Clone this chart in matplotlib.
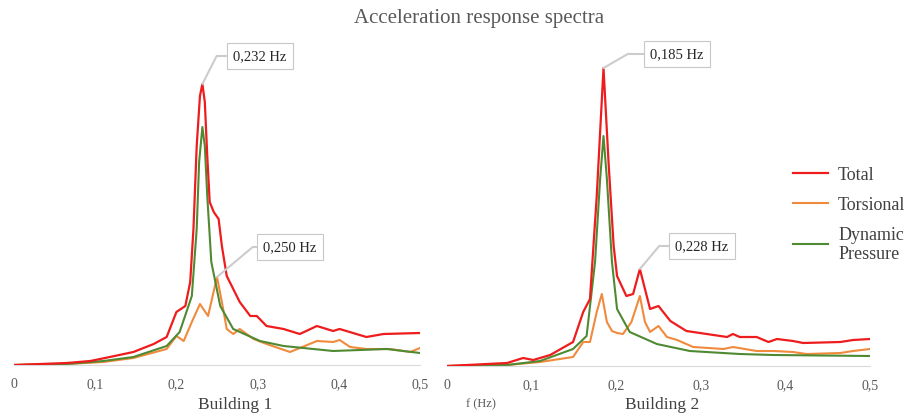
import matplotlib
matplotlib.use("Agg")

import matplotlib.pyplot as plt

plt.rcParams["font.family"] = ["Liberation Serif", "DejaVu Serif"]

# Building 1 spectra (frequency in Hz, amplitude in arbitrary units)
b1_total_f = [0.0, 0.065, 0.094, 0.118, 0.147, 0.172, 0.188, 0.200, 0.211, 0.217,
              0.221, 0.225, 0.229, 0.232, 0.235, 0.238, 0.241, 0.246, 0.252, 0.256,
              0.262, 0.278, 0.291, 0.299, 0.311, 0.332, 0.352, 0.373, 0.393, 0.401,
              0.434, 0.455, 0.500]
b1_total = [0, 2, 4, 8, 13, 21, 28, 53, 59, 83,
            136, 219, 269, 281, 263, 209, 163, 153, 146, 119,
            89, 63, 49, 49, 39, 36, 31, 39, 34, 36,
            28, 31, 32]

b1_tors_f = [0.0, 0.065, 0.110, 0.147, 0.188, 0.200, 0.209, 0.219, 0.229, 0.239,
             0.250, 0.256, 0.262, 0.270, 0.278, 0.295, 0.311, 0.340, 0.373, 0.393,
             0.401, 0.414, 0.434, 0.463, 0.488, 0.500]
b1_tors = [0, 1, 3, 7, 16, 29, 24, 43, 61, 49,
           88, 63, 36, 31, 36, 26, 21, 13, 24, 23,
           25, 18, 16, 16, 13, 17]

b1_dyn_f = [0.0, 0.065, 0.110, 0.147, 0.188, 0.204, 0.219, 0.225, 0.228, 0.232,
            0.235, 0.238, 0.243, 0.254, 0.270, 0.303, 0.332, 0.393, 0.459, 0.500]
b1_dyn = [0, 1, 4, 8, 19, 33, 69, 136, 203, 238,
          219, 169, 103, 59, 36, 24, 19, 14, 16, 12]

# Building 2 spectra
b2_total_f = [0.0, 0.071, 0.090, 0.102, 0.122, 0.149, 0.161, 0.169, 0.177, 0.185,
              0.191, 0.197, 0.201, 0.212, 0.220, 0.228, 0.234, 0.240, 0.250, 0.264,
              0.283, 0.307, 0.331, 0.338, 0.346, 0.366, 0.380, 0.390, 0.409, 0.421,
              0.465, 0.480, 0.500]
b2_total = [0, 3, 8, 6, 11, 24, 54, 67, 170, 298,
            203, 120, 90, 70, 72, 97, 77, 57, 60, 45,
            35, 32, 29, 32, 29, 29, 24, 27, 25, 23,
            24, 26, 27]

b2_tors_f = [0.0, 0.071, 0.110, 0.149, 0.161, 0.169, 0.177, 0.183, 0.189, 0.195,
             0.201, 0.208, 0.218, 0.228, 0.234, 0.240, 0.250, 0.260, 0.272, 0.291,
             0.327, 0.338, 0.366, 0.386, 0.409, 0.425, 0.465, 0.480, 0.500]
b2_tors = [0, 1, 4, 9, 24, 24, 54, 72, 44, 35,
           33, 32, 44, 70, 44, 34, 40, 29, 26, 19,
           17, 19, 15, 15, 14, 12, 13, 15, 17]

b2_dyn_f = [0.0, 0.071, 0.110, 0.149, 0.165, 0.175, 0.181, 0.185, 0.189, 0.195,
            0.201, 0.216, 0.248, 0.287, 0.346, 0.386, 0.500]
b2_dyn = [0, 1, 5, 17, 30, 104, 187, 230, 187, 104,
          57, 34, 22, 15, 12, 11, 10]

tick_vals = [0, 0.1, 0.2, 0.3, 0.4, 0.5]
tick_labels = ["0", "0,1", "0,2", "0,3", "0,4", "0,5"]

RED = "#ee1c1c"
ORANGE = "#f08a3c"
GREEN = "#4f8a33"
GRAY = "#595959"

W, H = 908, 414
fig = plt.figure(figsize=(W / 100, H / 100), dpi=100)


def fx(px):
    return px / W


def fy(py):
    return 1 - py / H


ax1 = fig.add_axes([fx(14), 48 / H, 406 / W, 306 / H])
ax2 = fig.add_axes([fx(447), 47 / H, 423 / W, 306 / H])

for ax, data in [(ax1, (b1_total_f, b1_total, b1_tors_f, b1_tors, b1_dyn_f, b1_dyn)),
                 (ax2, (b2_total_f, b2_total, b2_tors_f, b2_tors, b2_dyn_f, b2_dyn))]:
    tf, tv, of, ov, df, dv = data
    ax.plot(tf, tv, color=RED, lw=1.6, label="Total", zorder=3)
    ax.plot(of, ov, color=ORANGE, lw=1.5, label="Torsional", zorder=2)
    ax.plot(df, dv, color=GREEN, lw=1.5, label="Dynamic\nPressure", zorder=2.5)
    ax.set_xlim(0, 0.5)
    ax.set_ylim(0, 306)
    for s in ["top", "left", "right"]:
        ax.spines[s].set_visible(False)
    ax.spines["bottom"].set_color("#d9d9d9")
    ax.set_yticks([])
    ax.set_xticks(tick_vals)
    ax.set_xticklabels(tick_labels)
    ax.tick_params(axis="x", length=0, pad=9, labelsize=10, labelcolor=GRAY)

# peak labels
box = dict(boxstyle="square,pad=0.45", fc="white", ec="#c8c8c8", lw=0.8)
peaks = [
    (ax1, 0.232, 281, "0,232 Hz", (260, 57), 63),
    (ax1, 0.250, 88, "0,250 Hz", (290, 248), 40),
    (ax2, 0.185, 298, "0,185 Hz", (677, 55), 30),
    (ax2, 0.228, 97, "0,228 Hz", (702, 247), 50),
]
for ax, f, v, txt, (bx, by), ang in peaks:
    ax.annotate(txt, xy=(f, v), xytext=(fx(bx), fy(by)), textcoords="figure fraction",
                ha="center", va="center", fontsize=10.5, color="#262626", bbox=box,
                arrowprops=dict(arrowstyle="-", color="#cccccc", lw=1.5,
                                shrinkA=0, shrinkB=0, relpos=(0, 0.5),
                                connectionstyle=f"angle,angleA=0,angleB={ang}"),
                annotation_clip=False)

fig.text(0.5 + 25 / W, fy(18), "Acceleration response spectra", ha="center", va="center",
         fontsize=15, color=GRAY)
fig.text(fx(235), fy(405), "Building 1", ha="center", va="center", fontsize=12.5, color="#404040")
fig.text(fx(662), fy(405), "Building 2", ha="center", va="center", fontsize=12.5, color="#404040")
fig.text(fx(481), fy(404), "f (Hz)", ha="center", va="center", fontsize=9, color=GRAY)

handles, labels = ax2.get_legend_handles_labels()
leg = fig.legend(handles, labels, loc="upper left", bbox_to_anchor=(fx(793), fy(167)),
                 frameon=False, fontsize=13, handlelength=1.95, handletextpad=0.55,
                 labelspacing=0.72, borderpad=0, borderaxespad=0, labelcolor="#404040")
leg.get_texts()[2].set_linespacing(1.12)

fig.savefig("out.png", dpi=100)
